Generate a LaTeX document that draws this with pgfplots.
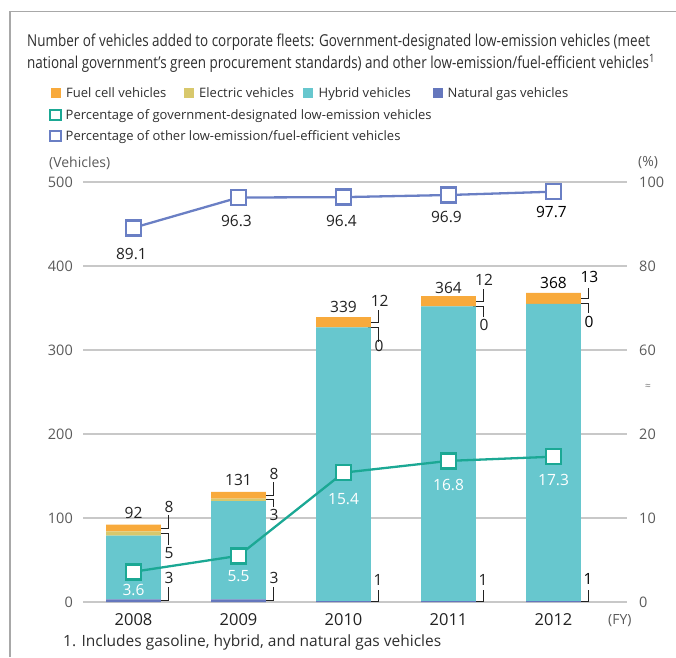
\documentclass[border=0pt]{standalone}
\usepackage{fontspec}
\usepackage{pgfplots}
\usepackage{pgfplotstable}
\pgfplotsset{compat=1.18}
\setmainfont{Open Sans}
\newfontfamily\titlefont[FakeStretch=0.82]{Open Sans}

\definecolor{cfuel}{HTML}{F8AA3C}
\definecolor{celec}{HTML}{D8C86C}
\definecolor{chyb}{HTML}{67C7CE}
\definecolor{cgas}{HTML}{6577BD}
\definecolor{cgreen}{HTML}{1BA894}
\definecolor{cblue}{HTML}{6A7FC4}
\definecolor{cgrid}{HTML}{C8C8C8}
\definecolor{cframe}{HTML}{A8A8A8}
\definecolor{ctxt}{HTML}{2E2E2E}
\definecolor{ctick}{HTML}{5A5A5A}
\definecolor{clab}{HTML}{222222}

\pgfplotstableread{
x gas hyb elec fuel gpct opct
0 3 76 5 8 3.6 89.1
1 3 117 3 8 5.5 96.3
2 1 326 0 12 15.4 96.4
3 1 351 0 12 16.8 96.9
4 1 354 0 13 17.3 97.7
}\fleet

\tikzset{
  lab/.style={font=\fontsize{15.5}{18}\selectfont, text=clab, inner sep=0pt},
  wlab/.style={font=\fontsize{15.5}{18}\selectfont, text=white, inner sep=0pt},
  lead/.style={draw=clab, line width=1pt},
  legtxt/.style={font=\fontsize{13}{15}\selectfont, text=ctxt, inner sep=0pt, anchor=base west},
}

\begin{document}
\begin{tikzpicture}[x=1pt,y=1pt]
\path[use as bounding box] (0,0) rectangle (676,657);
\draw[cframe, line width=1.5pt] (10,0) -- (10,645.3) -- (676,645.3);

% title
\node[anchor=base west, inner sep=0, font=\titlefont\fontsize{16.4}{20}\selectfont, text=ctxt] at (27,610.5)
  {Number of vehicles added to corporate fleets: Government-designated low-emission vehicles (meet};
\node[anchor=base west, inner sep=0, font=\titlefont\fontsize{16.4}{20}\selectfont, text=ctxt] at (27,588.5)
  {national government’s green procurement standards) and other low-emission/fuel-efficient vehicles\textsuperscript{1}};

% legend
\fill[cfuel] (50.7,558.7) rectangle ++(10,10);
\node[legtxt] at (66,559.2) {Fuel cell vehicles};
\fill[celec] (184,558.7) rectangle ++(10,10);
\node[legtxt] at (199,559.2) {Electric vehicles};
\fill[chyb] (303.3,558.7) rectangle ++(10,10);
\node[legtxt] at (318.5,559.2) {Hybrid vehicles};
\fill[cgas] (432.7,558.7) rectangle ++(10,10);
\node[legtxt] at (447.5,559.2) {Natural gas vehicles};
\draw[cgreen, line width=2pt] (50.3,536.8) rectangle ++(10.4,10.4);
\node[legtxt] at (65.5,537.5) {Percentage of government-designated low-emission vehicles};
\draw[cblue, line width=2pt] (50.3,515.8) rectangle ++(10.4,10.4);
\node[legtxt] at (65.5,516.5) {Percentage of other low-emission/fuel-efficient vehicles};

% unit labels
\node[anchor=west, inner sep=0, font=\fontsize{14}{16}\selectfont, text=ctick] at (49,494) {(Vehicles)};
\node[anchor=west, inner sep=0, font=\fontsize{14}{16}\selectfont, text=ctick] at (638,494) {(\%)};
\node[anchor=west, inner sep=0, font=\fontsize{14}{16}\selectfont, text=ctick] at (608,36) {(FY)};
\node[inner sep=0, font=\fontsize{10}{11}\selectfont, text=ctick!80] at (648,270) {≈};
\node[anchor=west, inner sep=0, font=\fontsize{15.5}{18}\selectfont, text=ctxt] at (63,15) {1. Includes gasoline, hybrid, and natural gas vehicles};

\begin{axis}[
  at={(83pt,55pt)}, anchor=south west,
  scale only axis, width=544pt, height=420pt,
  xmin=-0.481, xmax=4.70, ymin=0, ymax=500,
  ybar stacked, bar width=54.7pt,
  axis line style={draw=none},
  ymajorgrids, grid style={cgrid, line width=1.3pt},
  major tick length=0pt,
  /pgf/number format/assume math mode=true,
  ytick={0,100,...,500},
  yticklabel style={font=\fontsize{14.5}{17}\selectfont, text=ctick, inner sep=0pt, anchor=east, xshift=-10pt},
  xtick={0,...,4}, xticklabels={2008,2009,2010,2011,2012},
  xticklabel style={font=\fontsize{16.5}{19}\selectfont, text=clab, inner sep=0pt, anchor=north, yshift=-11pt},
  clip=false,
]
\addplot[fill=cgas, draw=none] table[x=x,y=gas]{\fleet};
\addplot[fill=chyb, draw=none] table[x=x,y=hyb]{\fleet};
\addplot[fill=celec, draw=none] table[x=x,y=elec]{\fleet};
\addplot[fill=cfuel, draw=none] table[x=x,y=fuel]{\fleet};

% totals
\node[lab] at (axis cs:0,106.3) {92};
\node[lab] at (axis cs:1,145.2) {131};
\node[lab] at (axis cs:2,351.6) {339};
\node[lab] at (axis cs:3,373.4) {364};
\node[lab, text=black] at (axis cs:4,380.1) {368};
% hybrid
\node[lab] at (axis cs:0,63.9) {76};
\node[lab] at (axis cs:1,106.8) {117};
\node[lab] at (axis cs:2,302) {326};
\node[lab] at (axis cs:3,329) {351};
\node[lab, text=black] at (axis cs:4,334.9) {354};

% leaders 2008
\draw[lead] (axis cs:0.23,88) -| (axis cs:0.333,103.6);
\node[lab] at (axis cs:0.338,112.7) {8};
\draw[lead] (axis cs:0.23,81.5) -| (axis cs:0.333,67.9);
\node[lab] at (axis cs:0.338,58.7) {5};
\draw[lead] (axis cs:0.23,1.5) -| (axis cs:0.333,17.5);
\node[lab] at (axis cs:0.338,28.2) {3};
% 2009
\draw[lead] (axis cs:1.23,127) -| (axis cs:1.333,143.2);
\node[lab] at (axis cs:1.338,152.4) {8};
\draw[lead] (axis cs:1.23,121.5) -| (axis cs:1.333,113.5);
\node[lab] at (axis cs:1.338,103.6) {3};
\draw[lead] (axis cs:1.23,1.5) -| (axis cs:1.333,17.5);
\node[lab] at (axis cs:1.338,28.2) {3};
% 2010
\draw[lead] (axis cs:2.23,333) -| (axis cs:2.333,347.6);
\node[lab] at (axis cs:2.345,358.7) {12};
\draw[lead] (axis cs:2.23,327) -| (axis cs:2.333,309.9);
\node[lab] at (axis cs:2.338,304.8) {0};
\draw[lead] (axis cs:2.23,0.5) -| (axis cs:2.333,14.3);
\node[lab] at (axis cs:2.33,26.2) {1};
% 2011
\draw[lead] (axis cs:3.23,358) -| (axis cs:3.333,372.3);
\node[lab] at (axis cs:3.338,383.3) {12};
\draw[lead] (axis cs:3.23,352) -| (axis cs:3.333,339.6);
\node[lab] at (axis cs:3.338,329.8) {0};
\draw[lead] (axis cs:3.23,0.5) -| (axis cs:3.333,14.3);
\node[lab] at (axis cs:3.33,26.2) {1};
% 2012
\draw[lead] (axis cs:4.23,361.5) -| (axis cs:4.333,373.4);
\node[lab, text=black] at (axis cs:4.342,387.3) {13};
\draw[lead] (axis cs:4.23,355) -| (axis cs:4.333,343.7);
\node[lab, text=black] at (axis cs:4.338,333) {0};
\draw[lead] (axis cs:4.23,0.5) -| (axis cs:4.333,14.3);
\node[lab, text=black] at (axis cs:4.33,27) {1};
\end{axis}

\begin{axis}[
  at={(83pt,55pt)}, anchor=south west,
  scale only axis, width=544pt, height=420pt,
  xmin=-0.481, xmax=4.70, ymin=0, ymax=500,
  axis line style={draw=none},
  major tick length=0pt,
  xtick=\empty,
  ytick={0,100,...,500}, yticklabels={0,10,20,60,80,100},
  yticklabel pos=right,
  yticklabel style={font=\fontsize{14.5}{17}\selectfont, text=ctick, inner sep=0pt, anchor=west, xshift=12pt},
  clip=false,
]
\addplot[cgreen, line width=2.3pt, mark=square*, mark size=7.5pt, mark options={fill=white, line width=2.5pt}]
  table[x=x, y expr=\thisrow{gpct}*10]{\fleet};
\addplot[cblue, line width=2.3pt, mark=square*, mark size=7.5pt, mark options={fill=white, line width=2.5pt}]
  table[x=x, y expr=300+(\thisrow{opct}-60)*5]{\fleet};

\node[wlab] at (axis cs:0,14.3) {3.6};
\node[wlab] at (axis cs:1,31) {5.5};
\node[wlab] at (axis cs:2,122.3) {15.4};
\node[wlab] at (axis cs:3,139.3) {16.8};
\node[wlab] at (axis cs:4,145.2) {17.3};

\node[lab] at (axis cs:-0.02,414.3) {89.1};
\node[lab] at (axis cs:0.98,454) {96.3};
\node[lab] at (axis cs:1.98,453.5) {96.4};
\node[lab] at (axis cs:2.98,458.7) {96.9};
\node[lab, text=black] at (axis cs:3.98,464) {97.7};
\end{axis}
\end{tikzpicture}
\end{document}
